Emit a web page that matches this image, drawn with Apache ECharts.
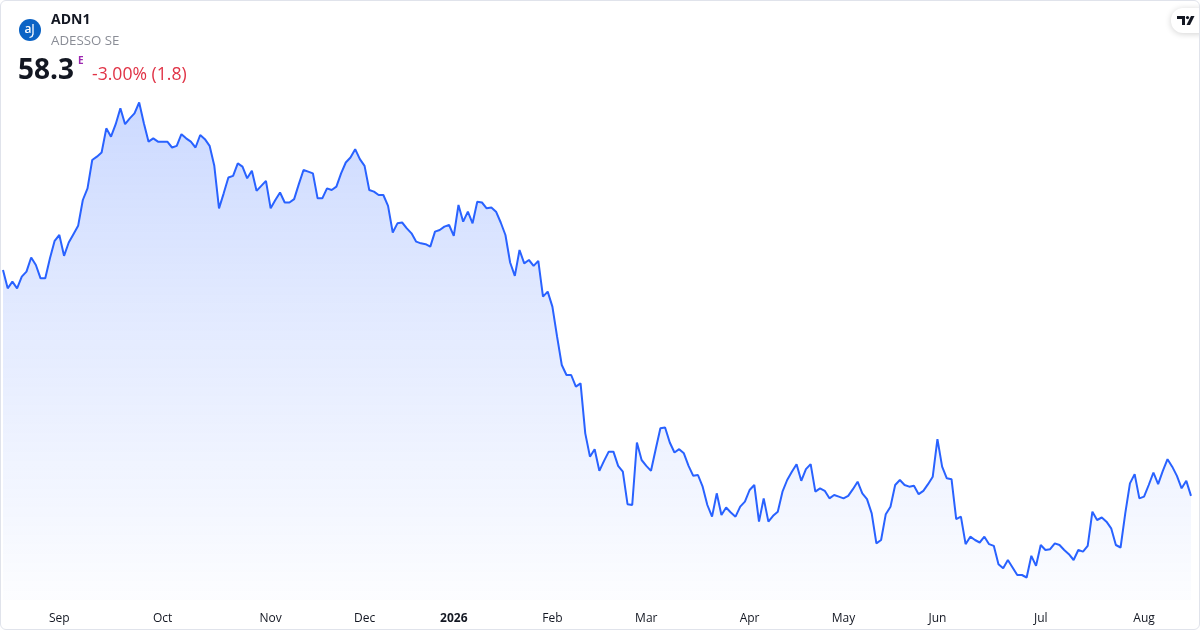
<!DOCTYPE html>
<html>
<head>
<meta charset="utf-8">
<script src="https://cdn.jsdelivr.net/npm/echarts@6/dist/echarts.min.js"></script>
<style>
  html, body { margin: 0; padding: 0; background: #ffffff; }
  #wrap { position: relative; width: 1200px; height: 630px; box-sizing: border-box; border: 1px solid #e0e3eb; border-radius: 6px; overflow: hidden; }
  #chart { position: absolute; left: -1px; top: -1px; width: 1200px; height: 630px; }
</style>
</head>
<body>
<div id="wrap"><div id="chart"></div></div>
<script>
// Daily closing prices
const prices = [
  85.4, 83.2, 84.0, 83.2, 84.6, 85.2, 86.9, 86.0, 84.4, 84.4,
  86.8, 88.9, 89.6, 87.1, 88.7, 89.7, 90.7, 93.8, 95.2, 98.6,
  99.0, 99.5, 102.4, 101.4, 102.9, 104.8, 102.9, 103.6, 104.2, 105.5,
  103.0, 100.8, 101.2, 100.8, 100.8, 100.8, 100.1, 100.3, 101.7, 101.2,
  100.8, 100.1, 101.6, 101.1, 100.3, 97.9, 92.8, 94.6, 96.5, 96.7,
  98.2, 97.8, 96.4, 97.3, 94.9, 95.5, 96.1, 92.8, 93.8, 94.7,
  93.5, 93.5, 93.9, 95.7, 97.4, 97.2, 97.0, 94.0, 94.0, 95.2,
  95.0, 95.4, 97.0, 98.3, 98.9, 99.9, 98.7, 97.9, 95.0, 94.8,
  94.4, 94.4, 93.1, 89.9, 91.0, 91.1, 90.4, 89.8, 88.8, 88.6,
  88.5, 88.2, 90.0, 90.2, 90.6, 90.8, 89.5, 93.2, 91.2, 92.4,
  91.0, 93.6, 93.5, 92.8, 92.9, 92.4, 91.1, 89.6, 86.3, 84.7,
  87.8, 86.2, 86.6, 85.9, 86.5, 82.2, 82.8, 81.0, 77.4, 74.0,
  72.8, 72.8, 71.4, 71.8, 65.8, 63.0, 63.9, 61.3, 62.5, 63.6,
  63.6, 61.9, 61.2, 57.3, 57.2, 64.7, 62.6, 61.9, 61.3, 63.9,
  66.4, 66.5, 64.7, 63.5, 63.9, 63.4, 61.9, 60.7, 60.8, 59.4,
  57.2, 55.8, 58.6, 56.0, 56.9, 56.3, 55.8, 57.0, 57.6, 59.0,
  59.6, 55.2, 58.0, 55.2, 55.9, 56.4, 58.8, 60.2, 61.2, 62.1,
  60.1, 61.5, 62.1, 58.8, 59.2, 58.9, 58.0, 58.4, 58.2, 58.0,
  58.3, 59.1, 60.0, 58.6, 57.9, 56.2, 52.6, 53.0, 56.1, 57.0,
  59.6, 60.2, 59.6, 59.4, 59.5, 58.5, 58.9, 59.7, 60.6, 65.1,
  61.8, 60.4, 60.3, 55.5, 55.8, 52.5, 53.4, 53.0, 52.7, 53.4,
  52.5, 52.3, 50.1, 49.6, 50.6, 49.7, 48.8, 48.8, 48.5, 51.1,
  49.9, 52.4, 51.8, 51.9, 52.6, 52.4, 51.8, 51.3, 50.6, 51.8,
  51.6, 52.3, 56.4, 55.4, 55.7, 55.2, 54.4, 52.4, 52.1, 56.2,
  59.8, 60.9, 58.0, 58.2, 59.6, 61.1, 59.7, 61.3, 62.7, 61.8,
  60.7, 59.2, 60.1, 58.3
];
// Month labels and the trading-day index where each appears
const tickIndex  = [12, 34, 57, 77, 96, 117, 137, 159, 179, 199, 221, 243];
const tickLabels = ['Sep', 'Oct', 'Nov', 'Dec', '2026', 'Feb', 'Mar', 'Apr', 'May', 'Jun', 'Jul', 'Aug'];

const categories = prices.map((_, i) => String(i));
const labelAt = {};
tickIndex.forEach((idx, k) => { labelAt[idx] = tickLabels[k]; });

const chart = echarts.init(document.getElementById('chart'), null, { renderer: 'canvas' });
const FONT = '"Open Sans", "Noto Sans", sans-serif';

chart.setOption({
  backgroundColor: 'transparent',
  animation: false,
  grid: { left: 3, right: 9, top: 100, bottom: 30, containLabel: false },
  xAxis: {
    type: 'category',
    data: categories,
    boundaryGap: false,
    axisLine: { show: false },
    axisTick: { show: false },
    splitLine: { show: false },
    axisLabel: {
      interval: (i) => labelAt[i] !== undefined,
      formatter: (v, i) => {
        const t = labelAt[i] || '';
        return t === '2026' ? '{b|2026}' : t;
      },
      color: '#131722',
      fontSize: 12,
      fontFamily: FONT,
      margin: 13,
      rich: { b: { fontWeight: 'bold', fontSize: 12, fontFamily: FONT, color: '#131722' } }
    }
  },
  yAxis: {
    type: 'value',
    min: 45.8,
    max: 105.8,
    show: false,
    splitLine: { show: false }
  },
  series: [{
    type: 'line',
    data: prices,
    symbol: 'none',
    smooth: false,
    lineStyle: { color: '#2962ff', width: 2 },
    areaStyle: {
      color: new echarts.graphic.LinearGradient(0, 0, 0, 1, [
        { offset: 0, color: 'rgba(41,98,255,0.34)' },
        { offset: 0.4, color: 'rgba(41,98,255,0.2)' },
        { offset: 1, color: 'rgba(41,98,255,0.02)' }
      ])
    }
  }],
  graphic: [
    { type: 'circle', shape: { cx: 30, cy: 30, r: 11 }, style: { fill: '#0b63c5' } },
    { type: 'text', x: 28, y: 30, style: { text: 'a', fill: '#ffffff', font: '600 12px ' + FONT, textAlign: 'center', textVerticalAlign: 'middle' } },
    { type: 'polyline', shape: { points: [[33, 24], [33, 34], [32, 36.5], [29.5, 37.5]] }, style: { stroke: '#ffffff', lineWidth: 1.3, fill: null } },
    { type: 'text', x: 51, y: 20, style: { text: 'ADN1', fill: '#131722', font: 'bold 14px ' + FONT, textVerticalAlign: 'middle' } },
    { type: 'text', x: 51, y: 41, style: { text: 'ADESSO SE', fill: '#8a8d96', font: '13.3px ' + FONT, textVerticalAlign: 'middle' } },
    { type: 'text', x: 18, y: 71, style: { text: '58.3', fill: '#131722', font: 'bold 28px ' + FONT, textVerticalAlign: 'middle' } },
    { type: 'text', x: 78, y: 61, style: { text: 'E', fill: '#9c27b0', font: 'bold 10px ' + FONT, textVerticalAlign: 'middle' } },
    { type: 'text', x: 92, y: 75, style: { text: '-3.00% (1.8)', fill: '#e03346', font: '17.6px ' + FONT, textVerticalAlign: 'middle' } },
    { type: 'rect', shape: { x: 1171, y: 8, width: 40, height: 25, r: 12 }, style: { fill: '#ffffff', shadowBlur: 6, shadowColor: 'rgba(0,0,0,0.18)', shadowOffsetY: 1 } },
    { type: 'polygon', shape: { points: [[1177, 16], [1185, 16], [1185, 25], [1182, 25], [1182, 19], [1177, 19]] }, style: { fill: '#131722' } },
    { type: 'circle', shape: { cx: 1187.5, cy: 17.6, r: 1.6 }, style: { fill: '#131722' } },
    { type: 'polygon', shape: { points: [[1191, 16], [1194.5, 16], [1190, 25], [1186.5, 25]] }, style: { fill: '#131722' } }
  ]
});
</script>
</body>
</html>
